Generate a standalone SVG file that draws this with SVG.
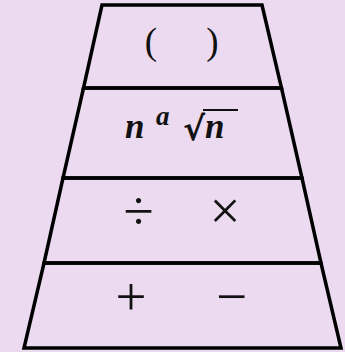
<svg xmlns="http://www.w3.org/2000/svg" width="345" height="352" viewBox="0 0 345 352">
<style>
.edge{fill:none;stroke:#000;stroke-width:3.5;stroke-linejoin:miter}
.op{font-family:"Liberation Serif",serif;font-size:55px;fill:#111;text-anchor:middle}
.par{font-family:"Liberation Serif",serif;font-size:37px;fill:#111;text-anchor:middle}
.math{font-family:"Liberation Serif",serif;font-weight:bold;font-style:italic;fill:#111}
</style>
<rect width="345" height="352" fill="#ebdaf0"/>
<g id="level-parens">
<path class="edge" d="M102,5 L262,5 L281.5,88 L83.5,88 Z"/>
<text class="par" x="151" y="53.5">(</text>
<text class="par" x="212.5" y="53.5">)</text>
</g>
<g id="level-powers">
<path class="edge" d="M83.5,88 L281.5,88 L302,178 L63,178 Z"/>
<text class="math" x="125" y="138" font-size="35">n</text>
<text class="math" x="156" y="125" font-size="27">a</text>
<text x="183" y="140" font-family="DejaVu Sans,sans-serif" font-weight="bold" font-size="33" fill="#111">√</text>
<line x1="203" y1="110" x2="238" y2="110" stroke="#111" stroke-width="1.8"/>
<text class="math" x="205" y="138" font-size="35">n</text>
</g>
<g id="level-muldiv">
<path class="edge" d="M63,178 L302,178 L321,263 L44,263 Z"/>
<text class="op" x="138.5" y="228.5">÷</text>
<text class="op" x="225" y="228.5">×</text>
</g>
<g id="level-addsub">
<path class="edge" d="M44,263 L321,263 L341,348 L24,348 Z"/>
<text class="op" x="131" y="315">+</text>
<text class="op" x="231.5" y="315">−</text>
</g>
</svg>
